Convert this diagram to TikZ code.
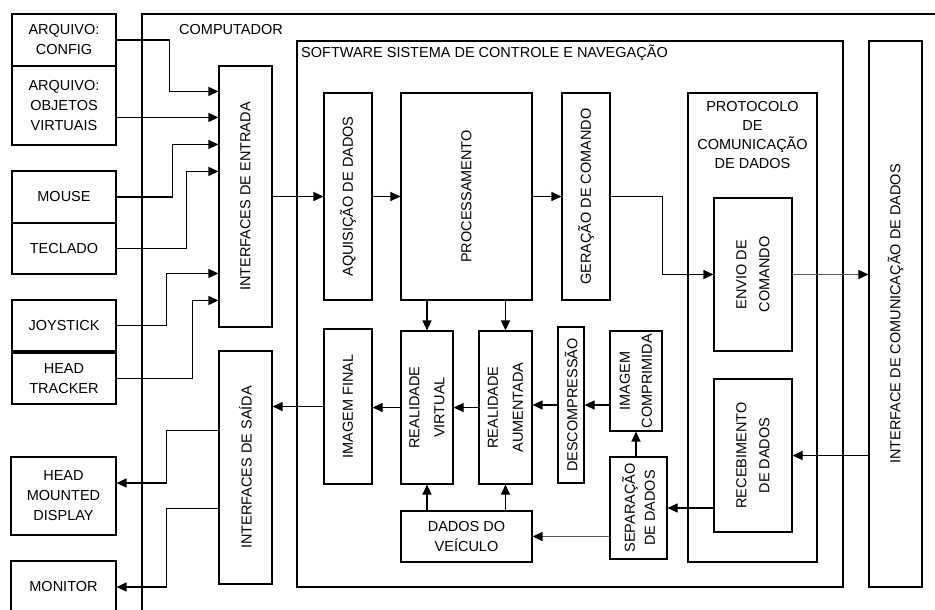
\documentclass[tikz,border=0pt]{standalone}
\usepackage{fontspec}
\setmainfont{Liberation Sans}
\usetikzlibrary{arrows.meta,calc}

\begin{document}
\begin{tikzpicture}[x=1pt,y=-1pt,
	blk/.style={draw, line width=1.1pt, inner sep=0pt, align=center, font=\fontsize{14.5}{20}\selectfont},
	vtxt/.style={rotate=90, inner sep=0pt, align=center, font=\fontsize{14.5}{23}\selectfont},
	arr/.style={line width=1.1pt, -{Triangle[length=10pt,width=9pt]}},
	garr/.style={draw=black!65, line width=1.7pt, -{Triangle[length=10pt,width=9pt,color=black]}}]
			%%%%% START %%%%%
			
			\clip (0,0) rectangle (935,610);
			
			\node[blk, minimum width=830, minimum height=640] (comp) at (557,334) {};
			\node[anchor=west, inner sep=0pt, font=\fontsize{14.5}{20}\selectfont] (compt) at (179,30) {COMPUTADOR};
			
			%%%%% devices
			\node[blk, minimum width=104, minimum height=52] (cfg) at (64,40) {ARQUIVO:\\CONFIG};
			\node[blk, minimum width=104, minimum height=79] (obj) at (64,105.5) {ARQUIVO:\\OBJETOS\\VIRTUAIS};
			\node[blk, minimum width=104, minimum height=52] (mouse) at (64,197) {MOUSE};
			\node[blk, minimum width=104, minimum height=51] (tecl) at (64,248.5) {TECLADO};
			\node[blk, minimum width=104, minimum height=51] (joy) at (64,325.5) {JOYSTICK};
			\node[blk, minimum width=104, minimum height=51] (head) at (64,378.5) {HEAD\\TRACKER};
			\node[blk, minimum width=105, minimum height=78] (hmd) at (63.5,496) {HEAD\\MOUNTED\\DISPLAY};
			\node[blk, minimum width=105, minimum height=52] (mon) at (63.5,587) {MONITOR};
			
			%%%%% interfaces
			\node[blk, minimum width=53, minimum height=261] (ent) at (245.5,196.5) {};
			\node[vtxt] (entt) at (ent) {INTERFACES DE ENTRADA};
			\node[blk, minimum width=53, minimum height=233] (sai) at (245.5,467.5) {};
			\node[vtxt] (sait) at (sai) {INTERFACES DE SAÍDA};
			\node[blk, minimum width=53, minimum height=546] (com) at (895.5,314) {};
			\node[vtxt] (comt) at (com) {INTERFACE DE COMUNICAÇÃO DE DADOS};
			
			%%%%% software
			\node[blk, minimum width=546, minimum height=546] (sw) at (570,314) {};
			\node[anchor=west, inner sep=0pt, font=\fontsize{14.5}{20}\selectfont] (swt) at (301,53) {SOFTWARE SISTEMA DE CONTROLE E NAVEGAÇÃO};
			
			\node[blk, minimum width=48, minimum height=207] (aq) at (348,196.5) {};
			\node[vtxt] (aqt) at (aq) {AQUISIÇÃO DE DADOS};
			\node[blk, minimum width=131, minimum height=207] (proc) at (466.5,196.5) {};
			\node[vtxt] (proct) at (proc) {PROCESSAMENTO};
			\node[blk, minimum width=48, minimum height=207] (ger) at (586,196.5) {};
			\node[vtxt] (gert) at (ger) {GERAÇÃO DE COMANDO};
			
			\node[blk, minimum width=48, minimum height=155] (imf) at (348,406.5) {};
			\node[vtxt] (imft) at (imf) {IMAGEM FINAL};
			\node[blk, minimum width=52, minimum height=153] (rv) at (427,407.5) {};
			\node[vtxt, font=\fontsize{14.5}{25}\selectfont] (rvt) at (rv) {REALIDADE\\VIRTUAL};
			\node[blk, minimum width=53, minimum height=153] (ra) at (505.5,407.5) {};
			\node[vtxt, font=\fontsize{14.5}{25}\selectfont] (rat) at (ra) {REALIDADE\\AUMENTADA};
			\node[blk, minimum width=26, minimum height=156] (desc) at (571,405) {};
			\node[vtxt] (desct) at (desc) {DESCOMPRESSÃO};
			\node[blk, minimum width=52, minimum height=100] (ic) at (636,381) {};
			\node[vtxt, font=\fontsize{14.5}{22}\selectfont] (ict) at (ic) {IMAGEM\\COMPRIMIDA};
			\node[blk, minimum width=57, minimum height=102] (sep) at (638.5,508) {};
			\node[vtxt, font=\fontsize{14.5}{20}\selectfont] (sept) at (sep) {SEPARAÇÃO\\DE DADOS};
			\node[blk, minimum width=131, minimum height=51] (dados) at (466.5,536.5) {DADOS DO\\VEÍCULO};
			
			%%%%% protocolo
			\node[blk, minimum width=129, minimum height=469] (prot) at (752.5,327.5) {};
			\node[anchor=north, inner sep=0pt, align=center, font=\fontsize{14.5}{19}\selectfont] (prott) at ([yshift=-9pt]prot.north) {PROTOCOLO\\DE\\COMUNICAÇÃO\\DE DADOS};
			\node[blk, minimum width=78, minimum height=153] (envio) at (753,274.5) {};
			\node[vtxt] (enviot) at (envio) {ENVIO DE\\COMANDO};
			\node[blk, minimum width=78, minimum height=153] (receb) at (753,455.5) {};
			\node[vtxt] (recebt) at (receb) {RECEBIMENTO\\DE DADOS};
			
			%%%%% inputs
			\coordinate (e1) at ($(ent.north west)+(0,26)$);
			\coordinate (e2) at ($(ent.north west)+(0,52)$);
			\coordinate (e3) at ($(ent.north west)+(0,79)$);
			\coordinate (e4) at ($(ent.north west)+(0,106)$);
			\coordinate (e5) at ($(ent.north west)+(0,208)$);
			\coordinate (e6) at ($(ent.north west)+(0,235)$);
			\draw[arr] (cfg.east) -- ++(53,0) |- (e1);
			\draw[arr] (obj.east |- e2) -- (e2);
			\draw[arr] (mouse.east) -- ++(56,0) |- (e3);
			\draw[arr] (tecl.east) -- ++(70,0) |- (e4);
			\draw[arr] (joy.east) -- ++(50,0) |- (e5);
			\draw[arr] (head.east) -- ++(76,0) |- (e6);
			
			%%%%% outputs
			\coordinate (o1) at ($(sai.north west)+(0,80)$);
			\coordinate (o2) at ($(sai.north west)+(0,158)$);
			\draw[arr] (o1) -- ++(-52,0) |- ($(hmd.east)+(0,-13)$);
			\draw[arr] (o2) -- ++(-52,0) |- (mon.east);
			
			%%%%% flow
			\draw[arr] (ent.east) -- (aq.west);
			\draw[arr] (aq.east) -- (proc.west);
			\draw[arr] (proc.east) -- (ger.west);
			\draw[arr] (ger.east) -- ++(52,0) |- (envio.west);
			\draw[garr] (envio.east) -- (envio.east -| com.west);
			\draw[arr] (com.west |- receb.east) -- (receb.east);
			\draw[arr] (receb.west |- sep.east) -- (sep.east);
			\draw[arr] (sep.north -| ic.south) -- (ic.south);
			\draw[garr] (sep.west |- dados.east) -- (dados.east);
			\draw[arr] (ic.west |- desc.east) -- (desc.east);
			\draw[arr] (desc.west) -- (desc.west -| ra.east);
			\draw[arr] (ra.west) -- (rv.east);
			\draw[arr] (rv.west) -- (rv.west -| imf.east);
			\draw[arr] (imf.west) -- (imf.west -| sai.east);
			\draw[arr] (proc.south -| rv.north) -- (rv.north);
			\draw[arr] (proc.south -| ra.north) -- (ra.north);
			\draw[arr] (dados.north -| rv.south) -- (rv.south);
			\draw[arr] (dados.north -| ra.south) -- (ra.south);
			
			%%%%% END %%%%%
\end{tikzpicture}
\end{document}
